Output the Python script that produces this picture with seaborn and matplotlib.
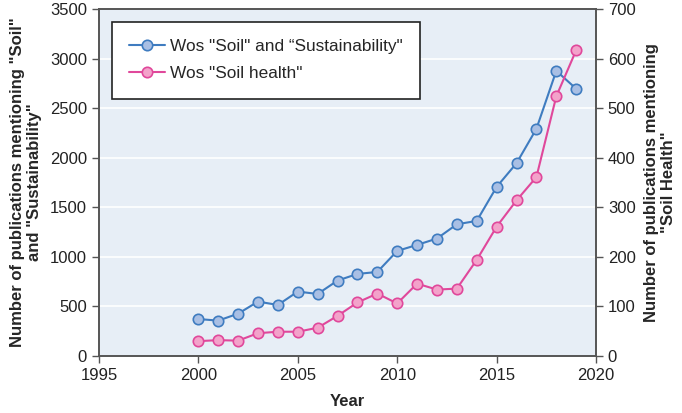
import matplotlib
matplotlib.use("Agg")
import matplotlib.pyplot as plt
import seaborn as sns
import pandas as pd

years = list(range(2000, 2020))
soil_sustainability = [373, 357, 427, 549, 515, 650, 626, 761, 828, 848,
                       1060, 1121, 1185, 1329, 1363, 1706, 1945, 2292, 2877, 2696]
soil_health = [30, 32, 31, 46, 49, 49, 57, 81, 108, 126,
               106, 146, 134, 136, 194, 261, 314, 361, 524, 617]

df = pd.DataFrame({"Year": years, "sustain": soil_sustainability, "health": soil_health})

sns.set_style("white")
plt.rcParams["font.family"] = ["Liberation Sans", "DejaVu Sans"]

fig = plt.figure(figsize=(6.82, 4.13), dpi=100)
ax = fig.add_axes([0.145, 0.138, 0.729, 0.84])
ax2 = ax.twinx()

blue_line, blue_face = "#3f7cc0", "#a9bfe4"
pink_line, pink_face = "#e0489b", "#f3a2ca"

# left axis: soil + sustainability, right axis: soil health
sns.lineplot(data=df, x="Year", y="sustain", ax=ax, color=blue_line, marker="o",
             markersize=7.5, markerfacecolor=blue_face, markeredgecolor=blue_line,
             markeredgewidth=1.2, linewidth=1.5, label='Wos "Soil" and \u201cSustainability"',
             legend=False)
sns.lineplot(data=df, x="Year", y="health", ax=ax2, color=pink_line, marker="o",
             markersize=7.5, markerfacecolor=pink_face, markeredgecolor=pink_line,
             markeredgewidth=1.2, linewidth=1.5, label='Wos "Soil health"',
             legend=False)

ax.set_facecolor("#e7eef6")
ax.set_xlim(1995, 2020)
ax.set_ylim(0, 3500)
ax2.set_ylim(0, 700)
ax.set_xticks(range(1995, 2021, 5))
ax.set_yticks(range(0, 3501, 500))
ax2.set_yticks(range(0, 701, 100))
ax.yaxis.grid(True, color="white", linewidth=1.2)
ax.set_axisbelow(True)

for a in (ax, ax2):
    for s in a.spines.values():
        s.set_color("#555555")
        s.set_linewidth(1.2)
    a.tick_params(axis="both", direction="out", length=5, width=1, color="#555555",
                  labelsize=12, labelcolor="#222222")
ax.tick_params(axis="y", left=True)
ax.tick_params(axis="x", bottom=True)
ax2.tick_params(axis="y", right=True)

ax.set_xlabel("Year", fontsize=12, fontweight="bold", labelpad=8)
ax.set_ylabel('Number of publications mentioning "Soil"\nand "Sustainability"',
              fontsize=12, fontweight="bold", linespacing=1.15, labelpad=6)
ax2.set_ylabel('Number of publications mentioning\n"Soil Health"',
               fontsize=12, fontweight="bold", rotation=90, labelpad=6, linespacing=1.15)

handles = ax.get_lines()[:1] + ax2.get_lines()[:1]
leg = ax.legend(handles=handles, labels=[h.get_label() for h in handles],
                loc="upper left", bbox_to_anchor=(0.026, 0.963), borderaxespad=0,
                fontsize=12.4, frameon=True, fancybox=False, edgecolor="#222222",
                framealpha=1, handlelength=2.1, handletextpad=0.3,
                borderpad=1.0, labelspacing=0.7)
leg.get_frame().set_linewidth(1.2)

fig.savefig("out.png", dpi=100)
